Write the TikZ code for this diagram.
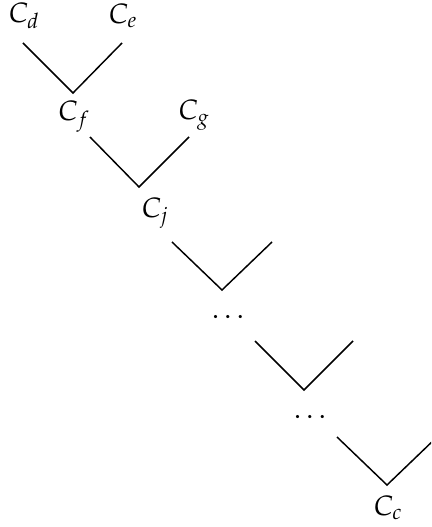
\documentclass[tikz,border=0pt]{standalone}
\usepackage{mathpazo}
\begin{document}
\begin{tikzpicture}[x=0.75pt,y=-0.75pt,
  lbl/.style={inner sep=0pt,font=\fontsize{21}{25}\selectfont},
  arm/.style={line width=1.1pt,line cap=butt}]
\useasboundingbox (0,0) rectangle (431,527);
\clip (0,0) rectangle (431,527);
% labels
\node[lbl] (cd) at (24,16) {$C_d$};
\node[lbl] (ce) at (123,16) {$C_e$};
\node[lbl] (cf) at (74,117) {$C_f$};
\node[lbl] (cg) at (194,115) {$C_g$};
\node[lbl] (cj) at (155,213) {$C_j$};
\node[lbl] (d1) at (228,317) {$\dots$};
\node[lbl] (d2) at (310,417) {$\dots$};
\node[lbl] (cc) at (388,508) {$C_c$};
% merge points
\coordinate (a1) at (23,43);  \coordinate (m1) at (73,93);   \coordinate (b1) at (122,43);
\coordinate (a2) at (90,137); \coordinate (m2) at (139,187); \coordinate (b2) at (189,137);
\coordinate (a3) at (172,242);\coordinate (m3) at (222,290); \coordinate (b3) at (272,242);
\coordinate (a4) at (255,341);\coordinate (m4) at (304,390); \coordinate (b4) at (353,341);
\coordinate (a5) at (337,437);\coordinate (m5) at (387,485); \coordinate (b5) at (437,437);
\foreach \i in {1,...,5}{
  \draw[arm] (a\i) -- (m\i) -- (b\i);
}
\end{tikzpicture}
\end{document}
